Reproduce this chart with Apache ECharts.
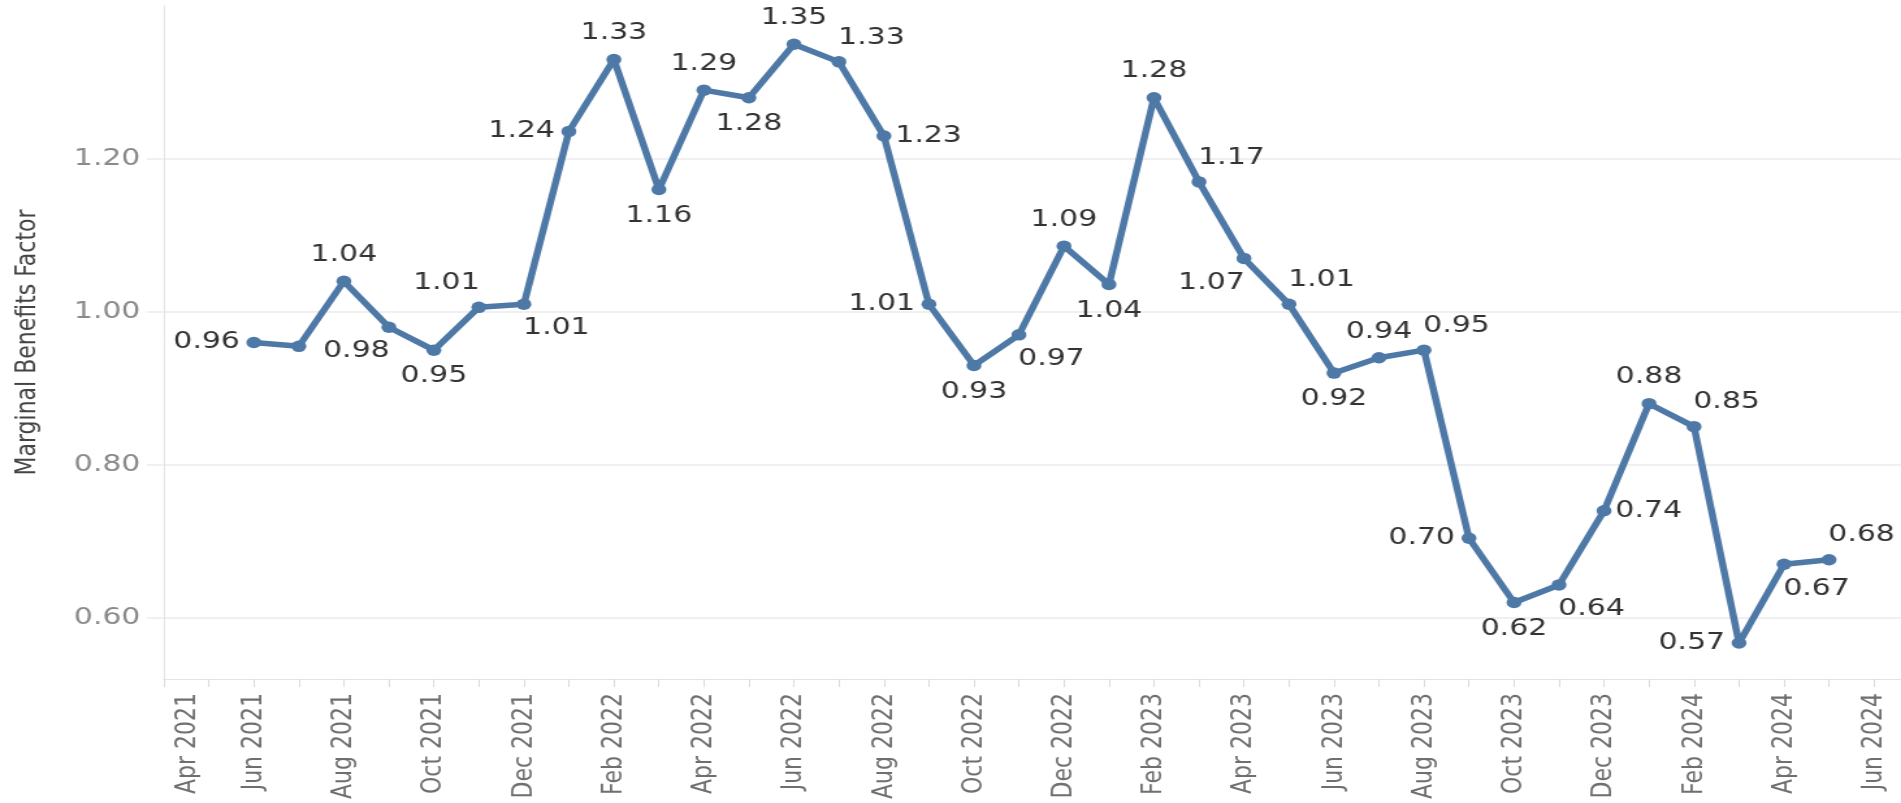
<!DOCTYPE html>
<html>
<head>
<meta charset="utf-8">
<script src="https://cdn.jsdelivr.net/npm/echarts@6/dist/echarts.min.js"></script>
<style>
html,body{margin:0;padding:0;background:#fff;overflow:hidden;width:1901px;height:803px}
#main{width:1462px;height:803px;transform:scaleX(1.3003);transform-origin:0 0}
</style>
</head>
<body>
<div id="main"></div>
<script>
// ---- data ----
const months = ['Jun 2021','Jul 2021','Aug 2021','Sep 2021','Oct 2021','Nov 2021','Dec 2021',
  'Jan 2022','Feb 2022','Mar 2022','Apr 2022','May 2022','Jun 2022','Jul 2022','Aug 2022','Sep 2022','Oct 2022','Nov 2022','Dec 2022',
  'Jan 2023','Feb 2023','Mar 2023','Apr 2023','May 2023','Jun 2023','Jul 2023','Aug 2023','Sep 2023','Oct 2023','Nov 2023','Dec 2023',
  'Jan 2024','Feb 2024','Mar 2024','Apr 2024','May 2024'];
const values = [0.96, 0.955, 1.04, 0.98, 0.95, 1.006, 1.01,
  1.236, 1.33, 1.16, 1.29, 1.28, 1.35, 1.327, 1.23, 1.01, 0.93, 0.97, 1.086,
  1.036, 1.28, 1.17, 1.07, 1.01, 0.92, 0.94, 0.95, 0.704, 0.62, 0.643, 0.74,
  0.88, 0.85, 0.567, 0.67, 0.676];
const xTickLabels = ['Apr 2021','Jun 2021','Aug 2021','Oct 2021','Dec 2021','Feb 2022','Apr 2022','Jun 2022',
  'Aug 2022','Oct 2022','Dec 2022','Feb 2023','Apr 2023','Jun 2023','Aug 2023','Oct 2023','Dec 2023',
  'Feb 2024','Apr 2024','Jun 2024'];
const yTickValues = [0.6, 0.8, 1.0, 1.2];
const yAxisTitle = 'Marginal Benefits Factor';

// ---- label placement (style only) ----
const labelSides = ['L','','T','BL','B','TL','BR','L','T','B','T','B','T','TR','R','L','B','BR','T','B',
  'T','TR','BL','TR','B','T','TR','L','B','BR','R','T','TR','L','BR','TR'];

const MON = ['Jan','Feb','Mar','Apr','May','Jun','Jul','Aug','Sep','Oct','Nov','Dec'];
function monthIndex(s){ const p = s.split(' '); return (Number(p[1]) - 2021) * 12 + MON.indexOf(p[0]) - 3; }

const FONT = 'DejaVu Sans';
function labelFor(side){
  const base = {show:true};
  switch(side){
    case 'T': return Object.assign(base,{position:'top',distance:9});
    case 'B': return Object.assign(base,{position:'bottom',distance:9});
    case 'L': return Object.assign(base,{position:'left',distance:5});
    case 'R': return Object.assign(base,{position:'right',distance:3});
    case 'TR': return Object.assign(base,{position:'top',distance:7,offset:[25,0]});
    case 'TL': return Object.assign(base,{position:'top',distance:7,offset:[-25,0]});
    case 'BR': return Object.assign(base,{position:'bottom',distance:7,offset:[25,0]});
    case 'BL': return Object.assign(base,{position:'bottom',distance:7,offset:[-25,0]});
    default: return {show:false};
  }
}

const xTickIdx = xTickLabels.map(monthIndex);
const monthlyTicks = [];
for (let i = 0; i <= xTickIdx[xTickIdx.length - 1]; i++) monthlyTicks.push(i);

const chart = echarts.init(document.getElementById('main'));
chart.setOption({
  animation:false,
  backgroundColor:'#ffffff',
  grid:{left:126, right:0, top:6, bottom:124, containLabel:false},
  xAxis:{
    type:'value', min:0, max:38.6,
    axisLine:{show:true, lineStyle:{color:'#e3e3e3', width:1}},
    axisTick:{show:true, customValues:monthlyTicks, length:8, lineStyle:{color:'#dcdcdc'}},
    axisLabel:{
      customValues:xTickIdx, rotate:90, margin:14,
      color:'#6f6f6f', fontSize:22, fontFamily:FONT,
      formatter:function(v){
        const k = xTickIdx.indexOf(Math.round(v));
        if (k < 0) return '';
        return k === 0 ? '{first|' + xTickLabels[k] + '}' : xTickLabels[k];
      },
      rich:{first:{padding:[37,0,0,0], color:'#6f6f6f', fontSize:22, fontFamily:FONT}}
    },
    splitLine:{show:false}
  },
  yAxis:{
    type:'value', min:0.52, max:1.40,
    name:yAxisTitle, nameLocation:'middle', nameGap:94,
    nameTextStyle:{fontSize:22, color:'#444444', fontFamily:FONT},
    axisLine:{show:true, lineStyle:{color:'#e3e3e3', width:1}},
    axisTick:{show:true, customValues:yTickValues, length:13, lineStyle:{color:'#ebebeb', width:1.5}},
    axisLabel:{customValues:yTickValues, margin:18, color:'#8a8a8a', fontSize:23, fontFamily:FONT,
      formatter:function(v){ return v.toFixed(2); }},
    splitLine:{show:true, lineStyle:{color:'#ebebeb', width:1.5}}
  },
  series:[{
    type:'line',
    symbol:'circle', symbolSize:11.5,
    lineStyle:{width:5.5, color:'#4e79a7'},
    itemStyle:{color:'#4e79a7'},
    label:{show:true, fontSize:23, color:'#333333', fontFamily:FONT,
      formatter:function(p){ return p.value[1].toFixed(2); }},
    data:months.map(function(m,i){
      return {value:[monthIndex(m), values[i]], label:labelFor(labelSides[i])};
    })
  }]
});
</script>
</body>
</html>
